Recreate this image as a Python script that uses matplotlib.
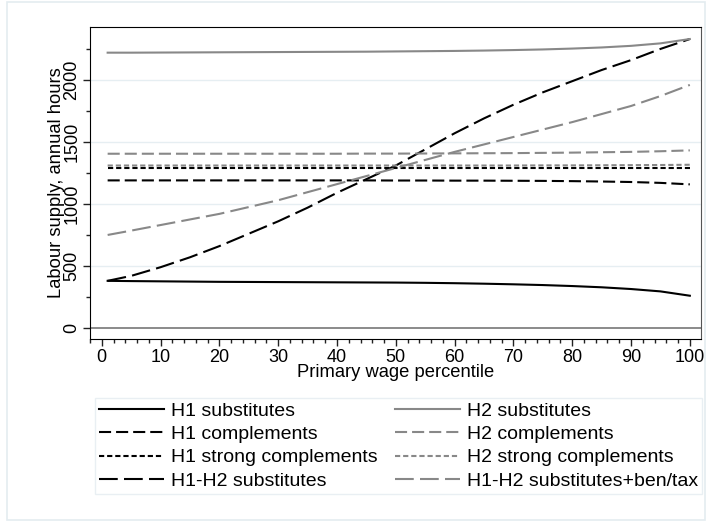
import matplotlib
import matplotlib.pyplot as plt
import numpy as np
from matplotlib.patches import Rectangle
from matplotlib.ticker import MultipleLocator

matplotlib.use("Agg")

plt.rcParams["font.family"] = ["Liberation Sans", "DejaVu Sans"]

# percentile grid points
pct = [1, 5, 10, 15, 20, 25, 30, 35, 40, 45, 50, 55, 60, 65, 70, 75, 80, 85, 90, 95, 100]

h1_subst = [380, 378, 376, 374, 372, 371, 370, 369, 368, 367, 366, 364, 361, 357, 352, 346, 338, 328, 314, 295, 260]
h2_subst = [2220, 2220, 2221, 2222, 2223, 2224, 2225, 2226, 2227, 2228, 2230, 2232, 2234, 2237, 2241, 2246, 2253, 2262, 2275, 2295, 2330]
h1_compl = [1190, 1190, 1190, 1190, 1190, 1190, 1190, 1190, 1190, 1190, 1189, 1189, 1188, 1188, 1187, 1186, 1184, 1181, 1177, 1170, 1158]
h2_compl = [1405, 1405, 1405, 1405, 1405, 1405, 1405, 1405, 1405, 1406, 1406, 1407, 1408, 1409, 1410, 1412, 1414, 1417, 1420, 1425, 1432]
h1_strong = [1288, 1288, 1288, 1288, 1288, 1288, 1288, 1288, 1288, 1288, 1288, 1288, 1288, 1288, 1288, 1288, 1288, 1288, 1288, 1288, 1288]
h2_strong = [1310, 1310, 1310, 1310, 1310, 1310, 1310, 1310, 1310, 1310, 1310, 1310, 1310, 1310, 1310, 1311, 1311, 1312, 1313, 1314, 1316]
h12_subst = [380, 420, 490, 570, 660, 760, 860, 970, 1090, 1200, 1310, 1440, 1570, 1690, 1800, 1900, 1990, 2080, 2160, 2250, 2330]
h12_bentax = [750, 785, 830, 875, 920, 975, 1030, 1095, 1160, 1225, 1290, 1355, 1420, 1480, 1540, 1600, 1660, 1725, 1790, 1870, 1960]

BLACK = "#000000"
GREY = "#888888"
DASH = (0, (5.8, 2.4))
SHORT = (0, (2.5, 1.4))
LONG = (0, (9, 3))

# listed column by column, so the 2-column legend reads H1 | H2 across rows
series = [
    ("H1 substitutes", h1_subst, BLACK, "-"),
    ("H1 complements", h1_compl, BLACK, DASH),
    ("H1 strong complements", h1_strong, BLACK, SHORT),
    ("H1-H2 substitutes", h12_subst, BLACK, LONG),
    ("H2 substitutes", h2_subst, GREY, "-"),
    ("H2 complements", h2_compl, GREY, DASH),
    ("H2 strong complements", h2_strong, GREY, SHORT),
    ("H1-H2 substitutes+ben/tax", h12_bentax, GREY, LONG),
]

fig = plt.figure(figsize=(7.12, 5.24), dpi=100, facecolor="white")
fig.patches.append(Rectangle((7 / 712, 4 / 524), 698 / 712, 518 / 524, transform=fig.transFigure,
                             fill=False, edgecolor="#e4ecf0", linewidth=1.2))

ax = fig.add_axes((90 / 712, 185 / 524, 611 / 712, 312 / 524))
ax.set_xlim(-2, 101.9)
ax.set_ylim(-89, 2427)

for y in (500, 1000, 1500, 2000):
    ax.axhline(y, color="#e6eef2", linewidth=1.0, zorder=0)
ax.axhline(0, color="#777777", linewidth=1.2, zorder=1)

handles = []
for label, vals, col, ls in series:
    (ln,) = ax.plot(pct, vals, color=col, linestyle=ls, linewidth=1.5, label=label, zorder=3)
    handles.append(ln)

ax.xaxis.set_minor_locator(MultipleLocator(2))
ax.yaxis.set_minor_locator(MultipleLocator(250))
ax.set_xticks(np.arange(0, 101, 10))
ax.set_yticks(np.arange(0, 2001, 500))
ax.tick_params(axis="both", which="major", length=5, width=1, color="#222222", labelsize=13, pad=2)
ax.tick_params(axis="both", which="minor", length=3, width=1, color="#222222")
for lab in ax.get_yticklabels():
    lab.set_rotation(90)
    lab.set_va("center")

for side in ("left", "bottom", "top"):
    ax.spines[side].set_color("#000000")
ax.spines["right"].set_color("#555555")

ax.set_xlabel("Primary wage percentile", fontsize=13.2, labelpad=-1)
ax.set_ylabel("Labour supply, annual hours", fontsize=13.2, labelpad=-1)

leg = fig.legend(handles=handles, loc="upper left", bbox_to_anchor=(95 / 712, 1 - 398 / 524), ncol=2,
                 fontsize=14, frameon=True, fancybox=False, handlelength=3.35, handletextpad=0.36,
                 columnspacing=0.9, labelspacing=0.3, borderpad=0.2, borderaxespad=0)
leg.get_frame().set_edgecolor("#e4ecf0")
leg.get_frame().set_linewidth(1.0)

fig.savefig("out.png", dpi=100, facecolor="white")
plt.close(fig)
